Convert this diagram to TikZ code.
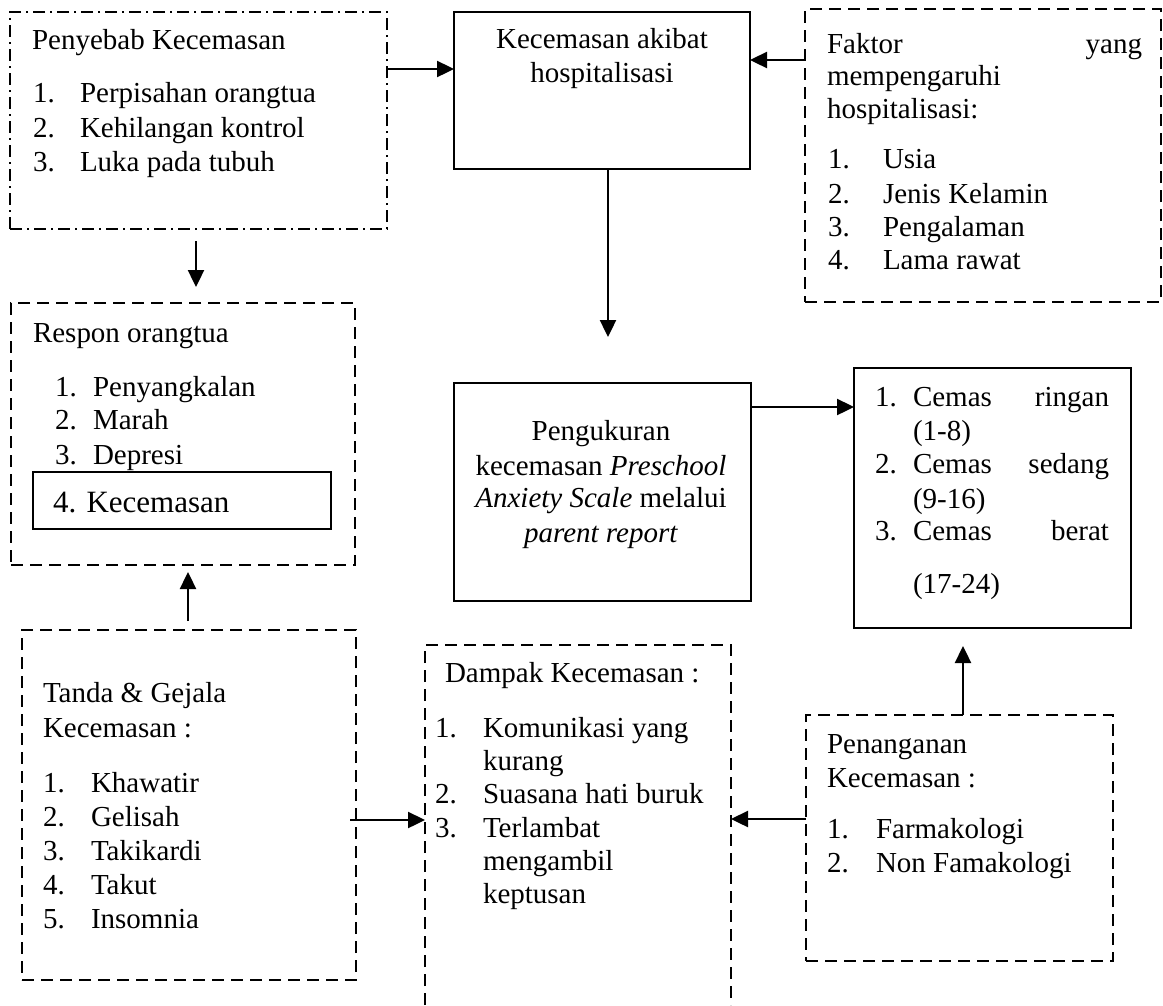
\documentclass[tikz,border=0pt]{standalone}
\usepackage{fontspec}
\setmainfont{Liberation Serif}
\usetikzlibrary{arrows.meta}
\begin{document}
\begin{tikzpicture}[x=1pt,y=-1pt,
  box/.style={draw, line width=2.4pt, inner sep=0pt, outer sep=0pt, anchor=north west},
  solidbox/.style={box},
  dashbox/.style={box, dash pattern=on 12pt off 7pt},
  dashdotbox/.style={box, dash pattern=on 12pt off 5pt on 2pt off 5pt},
  txt/.style={inner sep=0pt, outer sep=0pt, font=\fontsize{29}{34}\selectfont},
  bigtxt/.style={inner sep=0pt, outer sep=0pt, font=\fontsize{31}{36}\selectfont},
  arr/.style={line width=2.4pt, -{Triangle[length=17pt,width=16pt]}}
]
\useasboundingbox (0,0) rectangle (1163,1005);

% ---------- boxes ----------
\node[dashdotbox, minimum width=377pt, minimum height=217pt] (A) at (10,12) {};
\node[solidbox, minimum width=296pt, minimum height=157pt] (B) at (454,12) {};
\node[dashbox, minimum width=356pt, minimum height=293pt] (C) at (805,9) {};
\node[dashbox, minimum width=344pt, minimum height=262pt] (D) at (11,303) {};
\node[solidbox, minimum width=298pt, minimum height=57pt] (K) at (33,472) {};
\node[dashbox, minimum width=334pt, minimum height=350pt] (E) at (22,630) {};
\node[box, draw=none, minimum width=306pt, minimum height=360pt] (F) at (425,645) {};
\draw[line width=2.4pt, dash pattern=on 12pt off 7pt] (F.south west) -- (F.north west) -- (F.north east) -- (F.south east);
\node[dashbox, minimum width=307pt, minimum height=246pt] (G) at (806,715) {};
\node[solidbox, minimum width=277pt, minimum height=260pt] (H) at (854,368) {};
\node[solidbox, minimum width=297pt, minimum height=218pt] (I) at (454,383) {};

% ---------- texts: A ----------
\node[txt, anchor=base west] (a0) at (32,49) {Penyebab Kecemasan};
\node[txt, anchor=base west] (a1n) at (33,102) {1.};
\node[txt, anchor=base west] (a1) at (80,102) {Perpisahan orangtua};
\node[txt, anchor=base west] (a2n) at (33,137) {2.};
\node[txt, anchor=base west] (a2) at (80,137) {Kehilangan kontrol};
\node[txt, anchor=base west] (a3n) at (33,171) {3.};
\node[txt, anchor=base west] (a3) at (80,171) {Luka pada tubuh};

% ---------- B ----------
\node[txt, anchor=base] (b1) at (602,48) {Kecemasan akibat};
\node[txt, anchor=base] (b2) at (602,82) {hospitalisasi};

% ---------- C ----------
\node[txt, anchor=base west] (c0a) at (827,53) {Faktor};
\node[txt, anchor=base east] (c0b) at (1142,53) {yang};
\node[txt, anchor=base west] (c0c) at (827,85) {mempengaruhi};
\node[txt, anchor=base west] (c0d) at (827,118) {hospitalisasi:};
\node[txt, anchor=base west] (c1n) at (828,168) {1.};
\node[txt, anchor=base west] (c1) at (883,168) {Usia};
\node[txt, anchor=base west] (c2n) at (828,203) {2.};
\node[txt, anchor=base west] (c2) at (883,203) {Jenis Kelamin};
\node[txt, anchor=base west] (c3n) at (828,236) {3.};
\node[txt, anchor=base west] (c3) at (883,236) {Pengalaman};
\node[txt, anchor=base west] (c4n) at (828,269) {4.};
\node[txt, anchor=base west] (c4) at (883,269) {Lama rawat};

% ---------- D ----------
\node[txt, anchor=base west] (d0) at (33,342) {Respon orangtua};
\node[txt, anchor=base west] (d1n) at (55,396) {1.};
\node[txt, anchor=base west] (d1) at (93,396) {Penyangkalan};
\node[txt, anchor=base west] (d2n) at (55,429) {2.};
\node[txt, anchor=base west] (d2) at (93,429) {Marah};
\node[txt, anchor=base west] (d3n) at (55,464) {3.};
\node[txt, anchor=base west] (d3) at (93,464) {Depresi};
\node[bigtxt, anchor=base west] (d4) at (53,512) {4. Kecemasan};

% ---------- E ----------
\node[txt, anchor=base west] (e0a) at (43,702) {Tanda \& Gejala};
\node[txt, anchor=base west] (e0b) at (43,737) {Kecemasan :};
\node[txt, anchor=base west] (e1n) at (43,792) {1.};
\node[txt, anchor=base west] (e1) at (91,792) {Khawatir};
\node[txt, anchor=base west] (e2n) at (43,826) {2.};
\node[txt, anchor=base west] (e2) at (91,826) {Gelisah};
\node[txt, anchor=base west] (e3n) at (43,860) {3.};
\node[txt, anchor=base west] (e3) at (91,860) {Takikardi};
\node[txt, anchor=base west] (e4n) at (43,894) {4.};
\node[txt, anchor=base west] (e4) at (91,894) {Takut};
\node[txt, anchor=base west] (e5n) at (43,928) {5.};
\node[txt, anchor=base west] (e5) at (91,928) {Insomnia};

% ---------- F ----------
\node[txt, anchor=base west] (f0) at (445,682) {Dampak Kecemasan :};
\node[txt, anchor=base west] (f1n) at (435,737) {1.};
\node[txt, anchor=base west] (f1) at (483,737) {Komunikasi yang};
\node[txt, anchor=base west] (f1b) at (483,770) {kurang};
\node[txt, anchor=base west] (f2n) at (435,803) {2.};
\node[txt, anchor=base west] (f2) at (483,803) {Suasana hati buruk};
\node[txt, anchor=base west] (f3n) at (435,837) {3.};
\node[txt, anchor=base west] (f3) at (483,837) {Terlambat};
\node[txt, anchor=base west] (f3b) at (483,870) {mengambil};
\node[txt, anchor=base west] (f3c) at (483,903) {keptusan};

% ---------- G ----------
\node[txt, anchor=base west] (g0a) at (827,753) {Penanganan};
\node[txt, anchor=base west] (g0b) at (827,787) {Kecemasan :};
\node[txt, anchor=base west] (g1n) at (827,838) {1.};
\node[txt, anchor=base west] (g1) at (876,838) {Farmakologi};
\node[txt, anchor=base west] (g2n) at (827,872) {2.};
\node[txt, anchor=base west] (g2) at (876,872) {Non Famakologi};

% ---------- H ----------
\node[txt, anchor=base west] (h1n) at (875,406) {1.};
\node[txt, anchor=base west] (h1a) at (913,406) {Cemas};
\node[txt, anchor=base east] (h1b) at (1109,406) {ringan};
\node[txt, anchor=base west] (h1c) at (913,440) {(1-8)};
\node[txt, anchor=base west] (h2n) at (875,473) {2.};
\node[txt, anchor=base west] (h2a) at (913,473) {Cemas};
\node[txt, anchor=base east] (h2b) at (1109,473) {sedang};
\node[txt, anchor=base west] (h2c) at (913,508) {(9-16)};
\node[txt, anchor=base west] (h3n) at (875,540) {3.};
\node[txt, anchor=base west] (h3a) at (913,540) {Cemas};
\node[txt, anchor=base east] (h3b) at (1109,540) {berat};
\node[txt, anchor=base west] (h3c) at (913,593) {(17-24)};

% ---------- I ----------
\node[txt, anchor=base] (i1) at (601,440) {Pengukuran};
\node[txt, anchor=base] (i2) at (601,475) {kecemasan \textit{Preschool}};
\node[txt, anchor=base] (i3) at (601,507) {\textit{Anxiety Scale} melalui};
\node[txt, anchor=base] (i4) at (601,542) {\textit{parent report}};

% ---------- connectors ----------
\draw[arr] (A.east |- 0,69) -- (B.west |- 0,69);
\draw[arr] (C.west |- 0,60) -- (B.east |- 0,60);
\draw[arr, shorten <=12pt, shorten >=16pt] (A.south -| 196,0) -- (D.north -| 196,0);
\draw[arr, shorten >=46pt] (B.south -| 608,0) -- (I.north -| 608,0);
\draw[arr] (I.east |- 0,407) -- (H.west |- 0,407);
\draw[arr, shorten <=9pt, shorten >=7pt] (E.north -| 188,0) -- (D.south -| 188,0);
\draw[arr, shorten <=-6pt] (E.east |- 0,820) -- (F.west |- 0,820);
\draw[arr] (G.west |- 0,819) -- (F.east |- 0,819);
\draw[arr, shorten >=18pt] (G.north -| 963,0) -- (H.south -| 963,0);
\end{tikzpicture}
\end{document}
